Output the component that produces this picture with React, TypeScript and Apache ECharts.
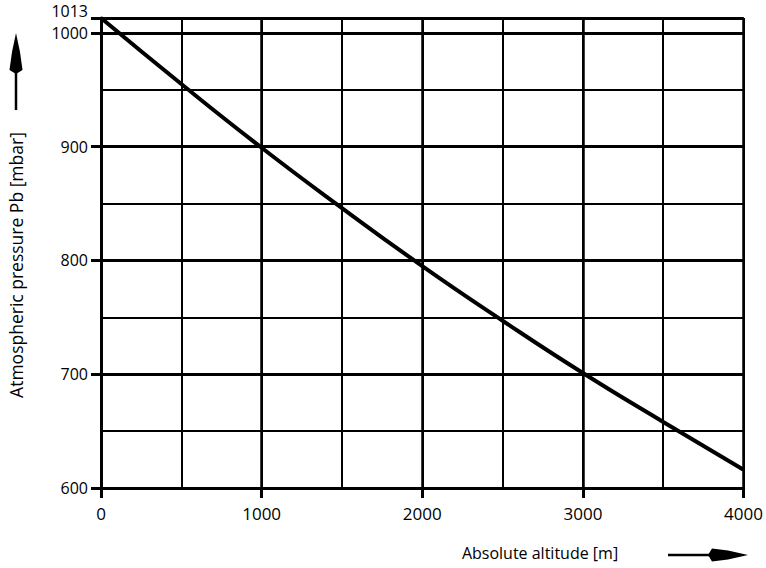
import React, { useEffect, useRef } from "react";
import * as echarts from "echarts";

const altitudes = [0, 500, 1000, 1500, 2000, 2500, 3000, 3500, 4000];
const pressures = [1013, 955, 899, 846, 795, 747, 701, 658, 616];
const yMajorLabels = [600, 700, 800, 900, 1000];
const yTopLabel = [1013];
const xLabels = [0, 1000, 2000, 3000, 4000];
const yTitle = "Atmospheric pressure Pb [mbar]";
const xTitle = "Absolute altitude [m]";

const FONT = "'Open Sans', sans-serif";

export default function App() {
  const ref = useRef<HTMLDivElement>(null);
  useEffect(() => {
    if (!ref.current) return;
    const chart = echarts.init(ref.current, undefined, { renderer: "svg" });
    const labelStyle = { color: "#000", fontFamily: FONT, fontSize: 16 };
    const option: any = {
      animation: false,
      backgroundColor: "#fff",
      grid: { left: 101, right: 22, top: 18, bottom: 80, containLabel: false },
      xAxis: [
        {
          type: "value",
          min: 0,
          max: 4000,
          interval: 1000,
          axisLine: { show: true, lineStyle: { color: "#000", width: 3 } },
          axisTick: {
            show: true,
            length: 10,
            customValues: xLabels,
            lineStyle: { color: "#000", width: 3 },
          },
          axisLabel: {
            ...labelStyle,
            fontSize: 17,
            margin: 17,
            customValues: xLabels,
            formatter: (v: number) => String(v),
          },
          splitLine: { show: true, lineStyle: { color: "#000", width: 2.5, type: "solid" } },
          z: 3,
        },
        {
          type: "value",
          min: 0,
          max: 4000,
          interval: 500,
          position: "bottom",
          axisLine: { show: false },
          axisTick: { show: false },
          axisLabel: { show: false },
          splitLine: { show: true, lineStyle: { color: "#000", width: 2, type: "solid" } },
        },
      ],
      yAxis: [
        {
          type: "value",
          min: 600,
          max: 1013,
          interval: 100,
          axisLine: { show: true, lineStyle: { color: "#000", width: 3 } },
          axisTick: { show: true, length: 10, lineStyle: { color: "#000", width: 3 } },
          axisLabel: {
            ...labelStyle,
            margin: 13,
            customValues: yMajorLabels,
            showMaxLabel: true,
            showMinLabel: true,
            formatter: (v: number) => String(v),
          },
          splitLine: { show: true, lineStyle: { color: "#000", width: 3, type: "solid" } },
          z: 3,
        },
        {
          type: "value",
          min: 600,
          max: 1013,
          interval: 50,
          position: "left",
          axisLine: { show: false },
          axisTick: { show: false },
          axisLabel: {
            ...labelStyle,
            margin: 13,
            verticalAlign: "bottom",
            lineHeight: 15,
            customValues: yTopLabel,
            showMaxLabel: true,
            formatter: (v: number) => String(v),
          },
          splitLine: { show: true, lineStyle: { color: "#000", width: 2, type: "solid" } },
        },
      ],
      series: [
        {
          type: "line",
          xAxisIndex: 0,
          yAxisIndex: 0,
          data: altitudes.map((a, i) => [a, pressures[i]]),
          smooth: true,
          symbol: "none",
          lineStyle: { color: "#000", width: 4 },
          z: 5,
        },
      ],
      graphic: [
        {
          type: "text",
          x: 16,
          y: 265,
          rotation: Math.PI / 2,
          style: {
            text: yTitle,
            fill: "#000",
            font: `17.5px ${FONT}`,
            textAlign: "center",
            textVerticalAlign: "middle",
          },
        },
        {
          type: "line",
          shape: { x1: 16, y1: 110, x2: 16, y2: 68 },
          style: { stroke: "#000", lineWidth: 2.5 },
        },
        {
          type: "polygon",
          shape: { points: [[16, 33], [12, 52], [9.5, 70], [16, 74], [22.5, 70], [20, 52]] },
          style: { fill: "#000" },
        },
        {
          type: "text",
          x: 540,
          y: 553,
          style: {
            text: xTitle,
            fill: "#000",
            font: `16px ${FONT}`,
            textAlign: "center",
            textVerticalAlign: "middle",
          },
        },
        {
          type: "line",
          shape: { x1: 668, y1: 555, x2: 715, y2: 555 },
          style: { stroke: "#000", lineWidth: 2.5 },
        },
        {
          type: "polygon",
          shape: { points: [[748, 555], [728, 550.5], [712, 548.5], [708, 555], [712, 561.5], [728, 559.5]] },
          style: { fill: "#000" },
        },
      ],
    };
    chart.setOption(option);
    return () => chart.dispose();
  }, []);
  return <div ref={ref} style={{ width: 766, height: 568, position: "absolute", left: 0, top: 0 }} />;
}
